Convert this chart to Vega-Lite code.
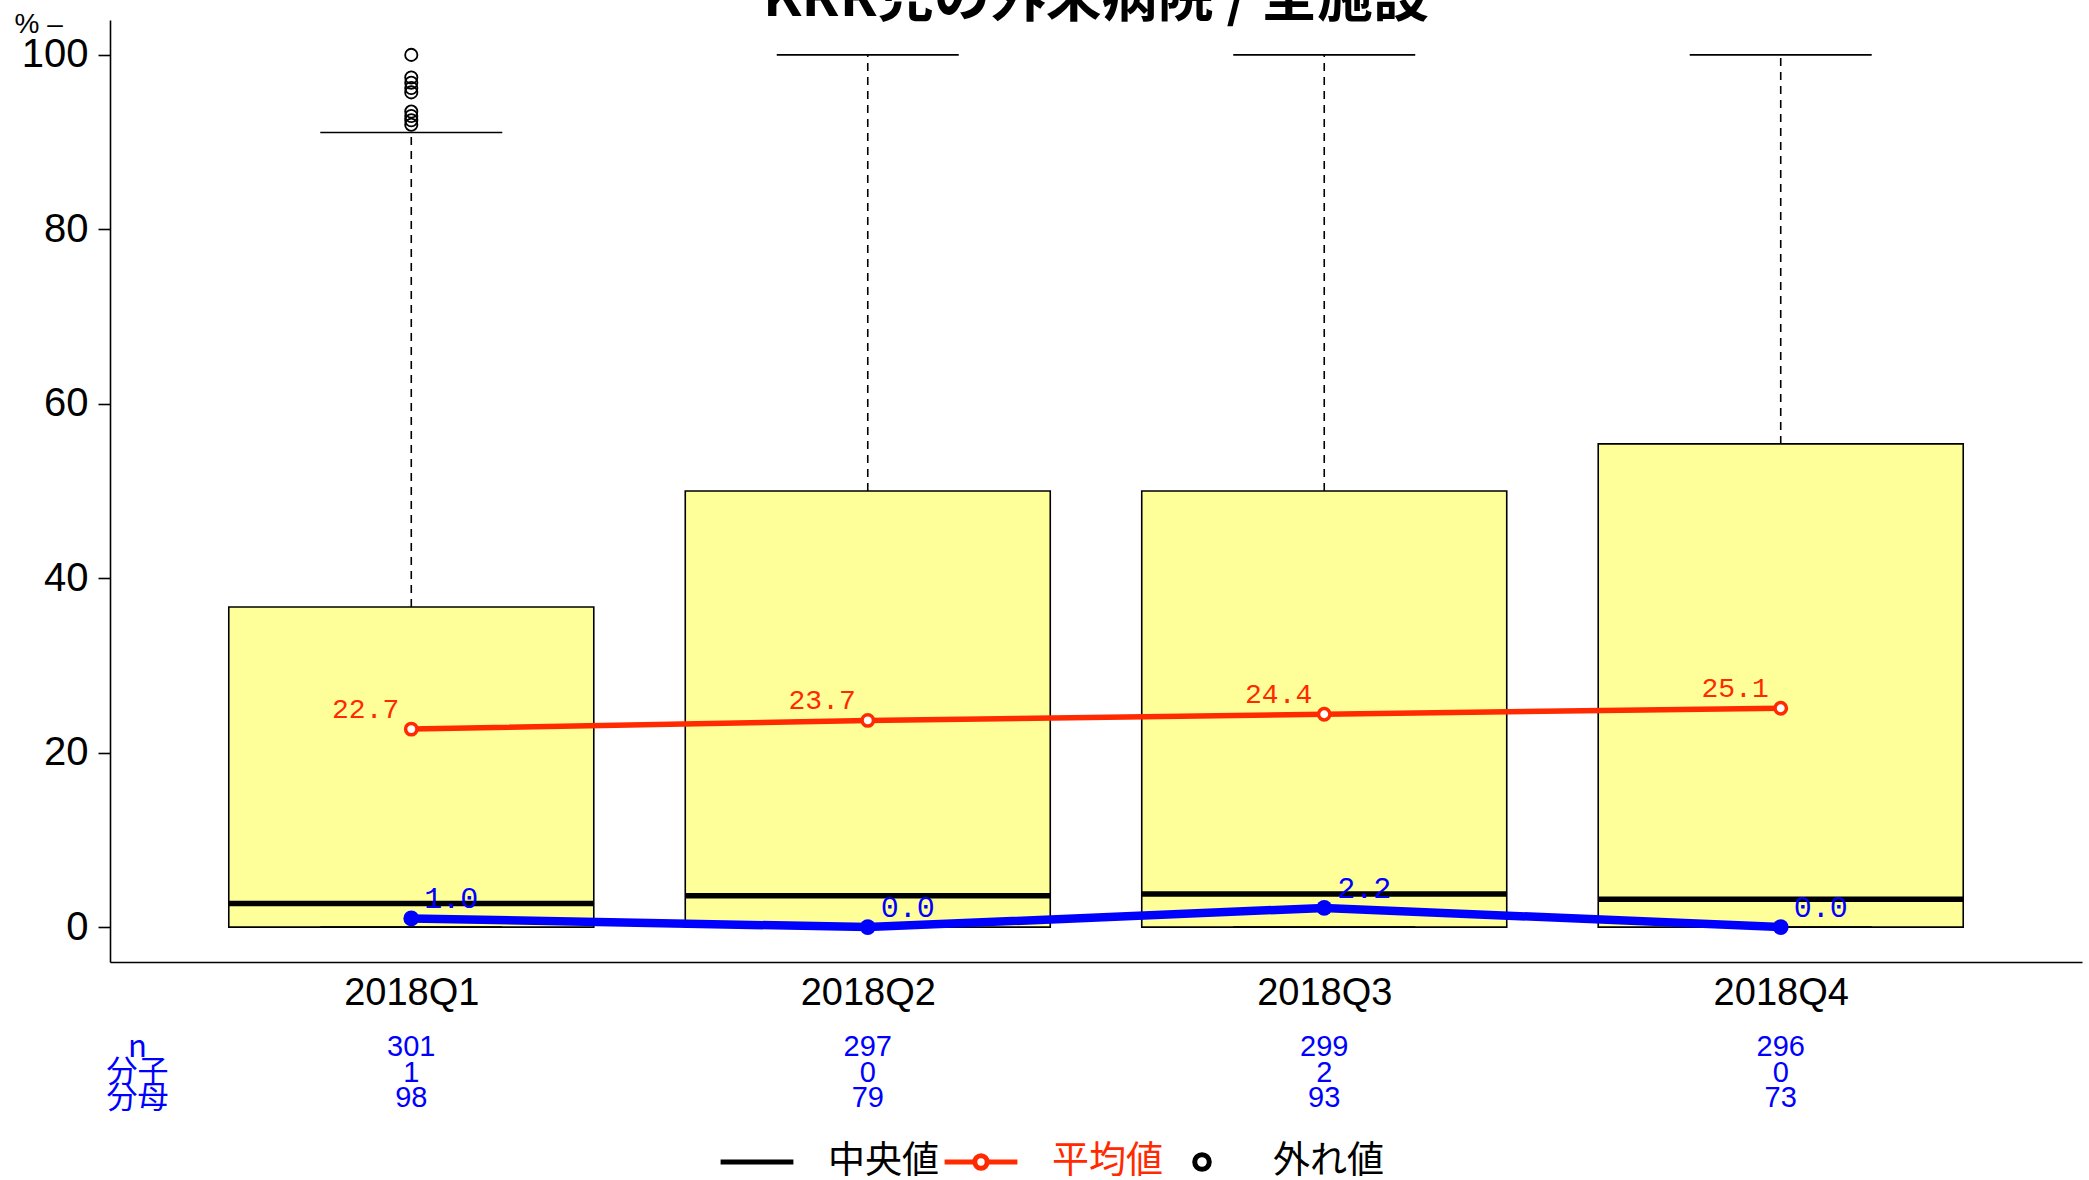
{
  "$schema": "https://vega.github.io/schema/vega-lite/v6.json",
  "width": 1972,
  "height": 942,
  "autosize": {"type": "none"},
  "padding": {"left": 110, "top": 20, "right": 7, "bottom": 218},
  "background": "white",
  "title": {"text": "KRR児の外来病院 / 全施設", "frame": "group", "offset": -62, "baseline": "alphabetic", "fontSize": 56, "fontWeight": "bold", "font": "Noto Sans CJK JP", "color": "black", "anchor": "middle"},
  "config": {"view": {"stroke": null}, "axis": {"grid": false}, "legend": {"padding": 0, "labelLimit": 0, "title": null}},
  "datasets": {
    "box": [
      {"q": "2018Q1", "lower": 0, "q1": 0, "median": 2.7, "q3": 36.7, "upper": 91.1, "mean": 22.7, "rate": 1.0},
      {"q": "2018Q2", "lower": 0, "q1": 0, "median": 3.6, "q3": 50, "upper": 100, "mean": 23.7, "rate": 0.0},
      {"q": "2018Q3", "lower": 0, "q1": 0, "median": 3.8, "q3": 50, "upper": 100, "mean": 24.4, "rate": 2.2},
      {"q": "2018Q4", "lower": 0, "q1": 0, "median": 3.2, "q3": 55.4, "upper": 100, "mean": 25.1, "rate": 0.0}
    ],
    "outliers": [
      {"q": "2018Q1", "v": 100},
      {"q": "2018Q1", "v": 97.4},
      {"q": "2018Q1", "v": 96.8},
      {"q": "2018Q1", "v": 96.2},
      {"q": "2018Q1", "v": 95.7},
      {"q": "2018Q1", "v": 93.5},
      {"q": "2018Q1", "v": 93.0},
      {"q": "2018Q1", "v": 92.5},
      {"q": "2018Q1", "v": 92.0}
    ],
    "table": [
      {"q": "2018Q1", "row": "n", "value": 301},
      {"q": "2018Q2", "row": "n", "value": 297},
      {"q": "2018Q3", "row": "n", "value": 299},
      {"q": "2018Q4", "row": "n", "value": 296},
      {"q": "2018Q1", "row": "分子", "value": 1},
      {"q": "2018Q2", "row": "分子", "value": 0},
      {"q": "2018Q3", "row": "分子", "value": 2},
      {"q": "2018Q4", "row": "分子", "value": 0},
      {"q": "2018Q1", "row": "分母", "value": 98},
      {"q": "2018Q2", "row": "分母", "value": 79},
      {"q": "2018Q3", "row": "分母", "value": 93},
      {"q": "2018Q4", "row": "分母", "value": 73}
    ]
  },
  "resolve": {"scale": {"y": "independent"}, "axis": {"y": "independent"}},
  "layer": [
    {
      "layer": [
        {
          "data": {"name": "box"},
          "mark": {"type": "rule", "strokeDash": [8, 6], "strokeWidth": 1.6, "color": "black"},
          "encoding": {
            "x": {"field": "q", "type": "nominal",
              "scale": {"type": "point", "padding": 0.66, "domain": ["2018Q1", "2018Q2", "2018Q3", "2018Q4"]},
              "axis": {"title": null, "labelAngle": 0, "ticks": false, "domain": true, "domainColor": "black", "domainWidth": 1.6, "labelFontSize": 38, "labelFont": "Liberation Sans", "labelColor": "black", "labelPadding": 12}},
            "y": {"field": "q3", "type": "quantitative",
              "scale": {"domain": [-4, 104], "nice": false, "zero": false},
              "axis": {"title": "%  –", "titleAngle": 0, "titleX": -96, "titleY": 4, "titleAlign": "left", "titleBaseline": "middle", "titleFontSize": 28, "titleFont": "Liberation Sans", "titleFontWeight": "normal", "titleColor": "black",
                "values": [0, 20, 40, 60, 80, 100], "labelFontSize": 40, "labelFont": "Liberation Sans", "labelColor": "black", "tickSize": 12, "tickWidth": 1.6, "tickColor": "black", "domainColor": "black", "domainWidth": 1.6, "labelPadding": 10}},
            "y2": {"field": "upper"}
          }
        },
        {
          "data": {"name": "box"},
          "mark": {"type": "bar", "size": 365, "fill": "#FFFF99", "stroke": "black", "strokeWidth": 1.6, "opacity": 1},
          "encoding": {
            "x": {"field": "q", "type": "nominal"},
            "y": {"field": "q1", "type": "quantitative"},
            "y2": {"field": "q3"}
          }
        },
        {
          "data": {"name": "box"},
          "mark": {"type": "tick", "size": 182, "thickness": 1.6, "color": "black", "opacity": 1},
          "encoding": {
            "x": {"field": "q", "type": "nominal"},
            "y": {"field": "upper", "type": "quantitative"}
          }
        },
        {
          "data": {"name": "box"},
          "mark": {"type": "tick", "size": 182, "thickness": 1.6, "color": "black", "opacity": 1},
          "encoding": {
            "x": {"field": "q", "type": "nominal"},
            "y": {"field": "lower", "type": "quantitative"}
          }
        },
        {
          "data": {"name": "box"},
          "mark": {"type": "tick", "size": 365, "thickness": 5.5, "color": "#000000", "opacity": 1},
          "encoding": {
            "x": {"field": "q", "type": "nominal"},
            "y": {"field": "median", "type": "quantitative"}
          }
        },
        {
          "data": {"name": "outliers"},
          "mark": {"type": "point", "shape": "circle", "filled": false, "size": 150, "strokeWidth": 1.8, "color": "#000000", "opacity": 1},
          "encoding": {
            "x": {"field": "q", "type": "nominal"},
            "y": {"field": "v", "type": "quantitative"}
          }
        },
        {
          "data": {"name": "box"},
          "mark": {"type": "line", "strokeWidth": 5.5, "point": {"filled": false, "fill": "white", "size": 130, "strokeWidth": 3.5, "opacity": 1}},
          "encoding": {
            "x": {"field": "q", "type": "nominal"},
            "y": {"field": "mean", "type": "quantitative"},
            "color": {"datum": "平均値", "type": "nominal",
              "scale": {"domain": ["中央値", "平均値", "外れ値"], "range": ["#000000", "#FF2A00", "#000000"]},
              "legend": {"orient": "none", "legendX": 608, "legendY": 1103, "direction": "horizontal",
                "labelFontSize": 37, "labelFont": "Noto Sans CJK JP", "labelOffset": 32, "columnPadding": -5,
                "labelColor": {"expr": "datum.value === '平均値' ? '#FF2A00' : '#000000'"},
                "symbolType": {"expr": "datum.value === '中央値' ? 'stroke' : (datum.value === '平均値' ? 'M-1,0L-0.17,0M0.17,0L1,0M0.17,0C0.17,0.094 0.094,0.17 0,0.17C-0.094,0.17 -0.17,0.094 -0.17,0C-0.17,-0.094 -0.094,-0.17 0,-0.17C0.094,-0.17 0.17,-0.094 0.17,0Z' : 'M0.2,0C0.2,0.1105 0.1105,0.2 0,0.2C-0.1105,0.2 -0.2,0.1105 -0.2,0C-0.2,-0.1105 -0.1105,-0.2 0,-0.2C0.1105,-0.2 0.2,-0.1105 0.2,0Z')"},
                "symbolSize": 5300, "symbolStrokeWidth": 5, "symbolFillColor": "#FFFFFF", "symbolOpacity": 1}
            }
          }
        },
        {
          "data": {"name": "box"},
          "mark": {"type": "text", "align": "right", "baseline": "middle", "dx": -12, "dy": -19, "font": "Liberation Mono", "fontSize": 28, "color": "#FF2A00"},
          "encoding": {
            "x": {"field": "q", "type": "nominal"},
            "y": {"field": "mean", "type": "quantitative"},
            "text": {"field": "mean", "type": "quantitative", "format": ".1f"}
          }
        },
        {
          "data": {"name": "box"},
          "mark": {"type": "line", "color": "#0000FF", "strokeWidth": 8.5, "point": {"filled": true, "size": 250, "color": "#0000FF", "opacity": 1}},
          "encoding": {
            "x": {"field": "q", "type": "nominal"},
            "y": {"field": "rate", "type": "quantitative"}
          }
        },
        {
          "data": {"name": "box"},
          "mark": {"type": "text", "align": "left", "baseline": "middle", "dx": 13, "dy": -19, "font": "Liberation Mono", "fontSize": 30, "color": "#0000FF"},
          "encoding": {
            "x": {"field": "q", "type": "nominal"},
            "y": {"field": "rate", "type": "quantitative"},
            "text": {"field": "rate", "type": "quantitative", "format": ".1f"}
          }
        }
      ]
    },
    {
      "data": {"name": "table"},
      "mark": {"type": "text", "font": "Liberation Sans", "fontSize": 29, "color": "#0000FF", "baseline": "middle", "align": "center"},
      "encoding": {
        "x": {"field": "q", "type": "nominal"},
        "y": {"field": "row", "type": "nominal",
          "scale": {"type": "point", "domain": ["n", "分子", "分母"], "range": [1027, 1078], "padding": 0},
          "axis": {"orient": "left", "title": null, "domain": false, "ticks": false, "tickSize": 0, "labelPadding": -27, "labelAlign": "center", "labelBaseline": "middle", "labelColor": "#0000FF", "labelFontSize": 31, "labelFont": "Noto Sans CJK JP", "labelOverlap": false}},
        "text": {"field": "value", "type": "quantitative"}
      }
    }
  ]
}
